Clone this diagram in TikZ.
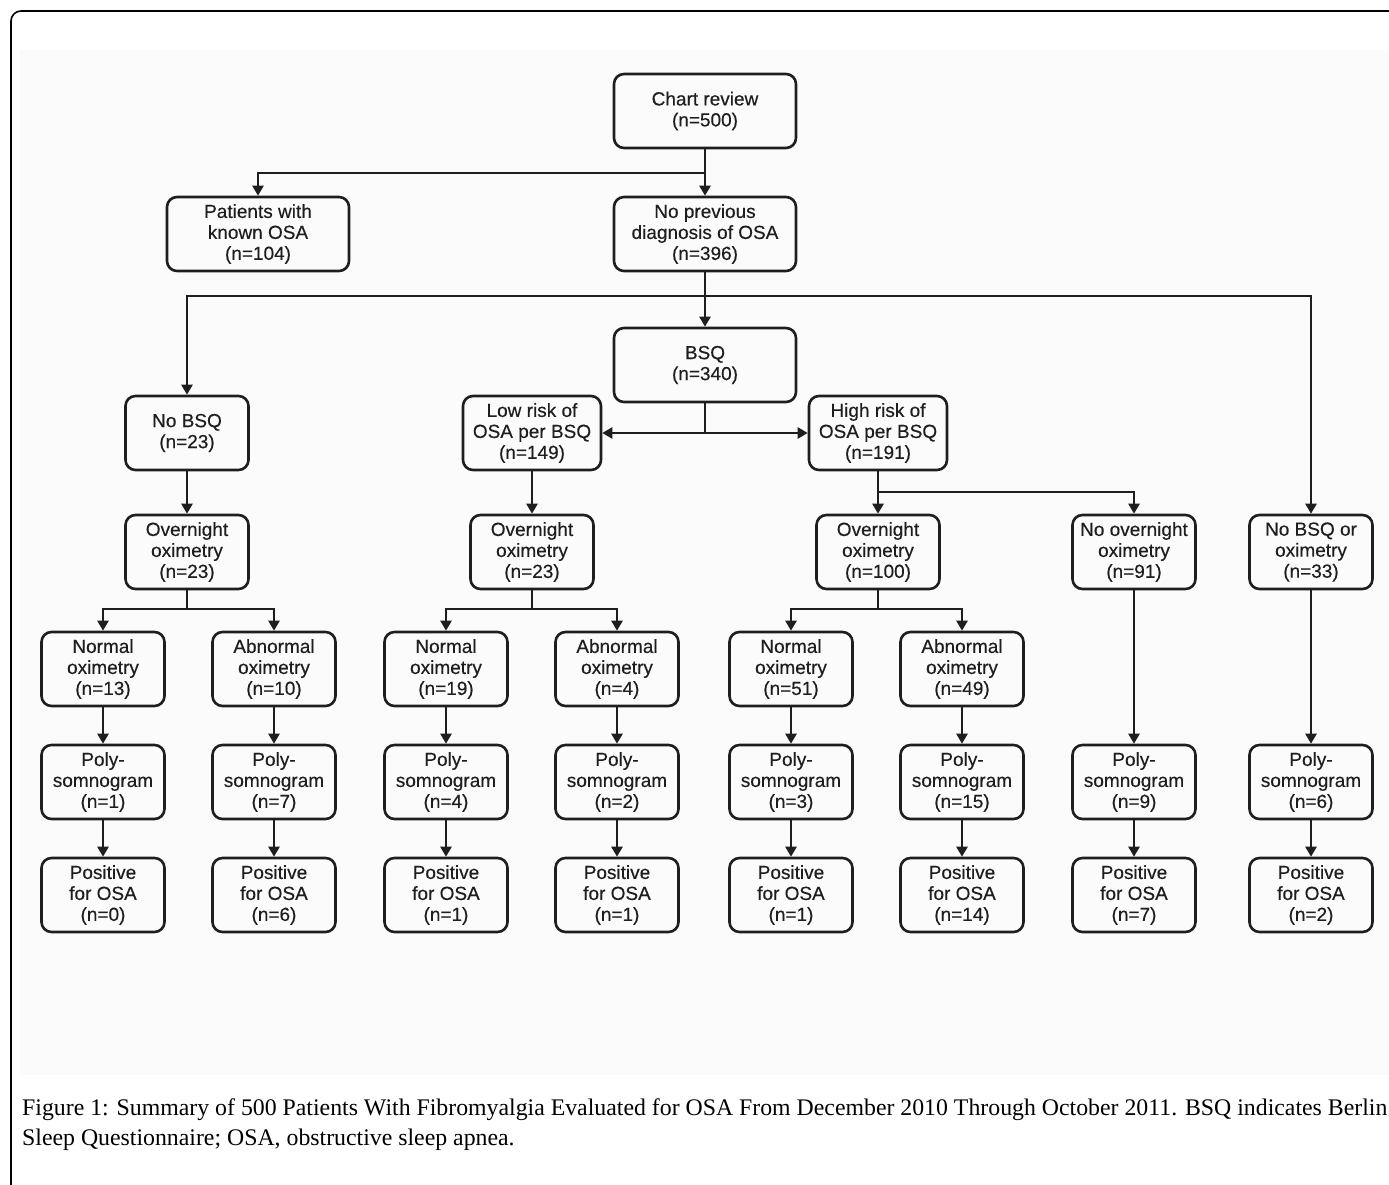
\documentclass[tikz,border=0pt]{standalone}
\usepackage{fontspec}
\setmainfont{Liberation Serif}
\newfontfamily\boxfont[FakeBold=0.3]{Liberation Sans}
\usetikzlibrary{arrows.meta}
\definecolor{ink}{HTML}{1E1E1E}
\begin{document}
\begin{tikzpicture}[x=1pt,y=-1pt,
  box/.style={draw=ink, line width=2.6pt, rounded corners=10pt, minimum width=123pt,
    minimum height=74pt, align=center, font=\boxfont\fontsize{19}{21}\selectfont,
    text=ink, inner sep=0pt},
  wide/.style={box, minimum width=182pt},
  mid/.style={box, minimum width=138pt},
  conn/.style={draw=ink, line width=2.4pt},
  arr/.style={conn, -{Triangle[length=10pt,width=11pt]}},
  captext/.style={anchor=base west, inner sep=0pt, text=black, font=\fontsize{23.8}{28}\selectfont}]
\useasboundingbox (0,0) rectangle (1389,1185);
\fill[black!1.5] (20,50) rectangle (1389,1075);
\draw[line width=1.6pt, rounded corners=10pt] (11,1200) -- (11,11) -- (1400,11);

% top levels
\node[wide] (chart)  at (705,111) {Chart review\\(n=500)};
\node[wide] (known)  at (258,234) {Patients with\\known OSA\\(n=104)};
\node[wide] (noprev) at (705,234) {No previous\\diagnosis of OSA\\(n=396)};
\node[wide] (bsq)    at (705,365) {BSQ\\(n=340)};
\node[box]  (nobsq)  at (187,433) {No BSQ\\(n=23)};
\node[mid]  (low)    at (532,433) {Low risk of\\OSA per BSQ\\(n=149)};
\node[mid]  (high)   at (878,433) {High risk of\\OSA per BSQ\\(n=191)};

% oximetry row
\node[box] (ovA)  at (187,552)  {Overnight\\oximetry\\(n=23)};
\node[box] (ovB)  at (532,552)  {Overnight\\oximetry\\(n=23)};
\node[box] (ovC)  at (878,552)  {Overnight\\oximetry\\(n=100)};
\node[box] (noov) at (1134,552) {No overnight\\oximetry\\(n=91)};
\node[box] (nobo) at (1311,552) {No BSQ or\\oximetry\\(n=33)};

% normal / abnormal
\node[box] (normA) at (103,669) {Normal\\oximetry\\(n=13)};
\node[box] (abnA)  at (274,669) {Abnormal\\oximetry\\(n=10)};
\node[box] (normB) at (446,669) {Normal\\oximetry\\(n=19)};
\node[box] (abnB)  at (617,669) {Abnormal\\oximetry\\(n=4)};
\node[box] (normC) at (791,669) {Normal\\oximetry\\(n=51)};
\node[box] (abnC)  at (962,669) {Abnormal\\oximetry\\(n=49)};

% polysomnogram
\node[box] (psgA) at (103,782)  {Poly-\\somnogram\\(n=1)};
\node[box] (psgB) at (274,782)  {Poly-\\somnogram\\(n=7)};
\node[box] (psgC) at (446,782)  {Poly-\\somnogram\\(n=4)};
\node[box] (psgD) at (617,782)  {Poly-\\somnogram\\(n=2)};
\node[box] (psgE) at (791,782)  {Poly-\\somnogram\\(n=3)};
\node[box] (psgF) at (962,782)  {Poly-\\somnogram\\(n=15)};
\node[box] (psgG) at (1134,782) {Poly-\\somnogram\\(n=9)};
\node[box] (psgH) at (1311,782) {Poly-\\somnogram\\(n=6)};

% positive
\node[box] (posA) at (103,895)  {Positive\\for OSA\\(n=0)};
\node[box] (posB) at (274,895)  {Positive\\for OSA\\(n=6)};
\node[box] (posC) at (446,895)  {Positive\\for OSA\\(n=1)};
\node[box] (posD) at (617,895)  {Positive\\for OSA\\(n=1)};
\node[box] (posE) at (791,895)  {Positive\\for OSA\\(n=1)};
\node[box] (posF) at (962,895)  {Positive\\for OSA\\(n=14)};
\node[box] (posG) at (1134,895) {Positive\\for OSA\\(n=7)};
\node[box] (posH) at (1311,895) {Positive\\for OSA\\(n=2)};

% junctions
\coordinate (j1) at (705,173);
\coordinate (j2) at (705,296);
\coordinate (j3) at (705,433);
\coordinate (j4) at (878,492);
\coordinate (jA) at (187,609);
\coordinate (jB) at (532,609);
\coordinate (jC) at (878,609);

% connectors
\draw[arr] (chart) -- (noprev);
\draw[arr] (j1) -| (known.north);
\draw[arr] (noprev) -- (bsq);
\draw[arr] (j2) -| (nobsq.north);
\draw[arr] (j2) -| (nobo.north);
\draw[conn] (bsq.south) -- (j3);
\draw[arr] (j3) -- (low.east);
\draw[arr] (j3) -- (high.west);
\draw[arr] (nobsq) -- (ovA);
\draw[arr] (low) -- (ovB);
\draw[arr] (high) -- (ovC);
\draw[arr] (j4) -| (noov.north);

\draw[conn] (ovA.south) -- (jA);
\draw[arr] (jA) -| (normA.north);
\draw[arr] (jA) -| (abnA.north);
\draw[conn] (ovB.south) -- (jB);
\draw[arr] (jB) -| (normB.north);
\draw[arr] (jB) -| (abnB.north);
\draw[conn] (ovC.south) -- (jC);
\draw[arr] (jC) -| (normC.north);
\draw[arr] (jC) -| (abnC.north);

\draw[arr] (normA) -- (psgA); \draw[arr] (psgA) -- (posA);
\draw[arr] (abnA) -- (psgB);  \draw[arr] (psgB) -- (posB);
\draw[arr] (normB) -- (psgC); \draw[arr] (psgC) -- (posC);
\draw[arr] (abnB) -- (psgD);  \draw[arr] (psgD) -- (posD);
\draw[arr] (normC) -- (psgE); \draw[arr] (psgE) -- (posE);
\draw[arr] (abnC) -- (psgF);  \draw[arr] (psgF) -- (posF);
\draw[arr] (noov) -- (psgG);  \draw[arr] (psgG) -- (posG);
\draw[arr] (nobo) -- (psgH);  \draw[arr] (psgH) -- (posH);

% caption
\node[captext] (cap1) at (22,1115) {Figure 1: Summary of 500 Patients With Fibromyalgia Evaluated for OSA From December 2010 Through October 2011. BSQ indicates Berlin};
\node[captext] (cap2) at (22,1145) {Sleep Questionnaire; OSA, obstructive sleep apnea.};
\end{tikzpicture}
\end{document}
